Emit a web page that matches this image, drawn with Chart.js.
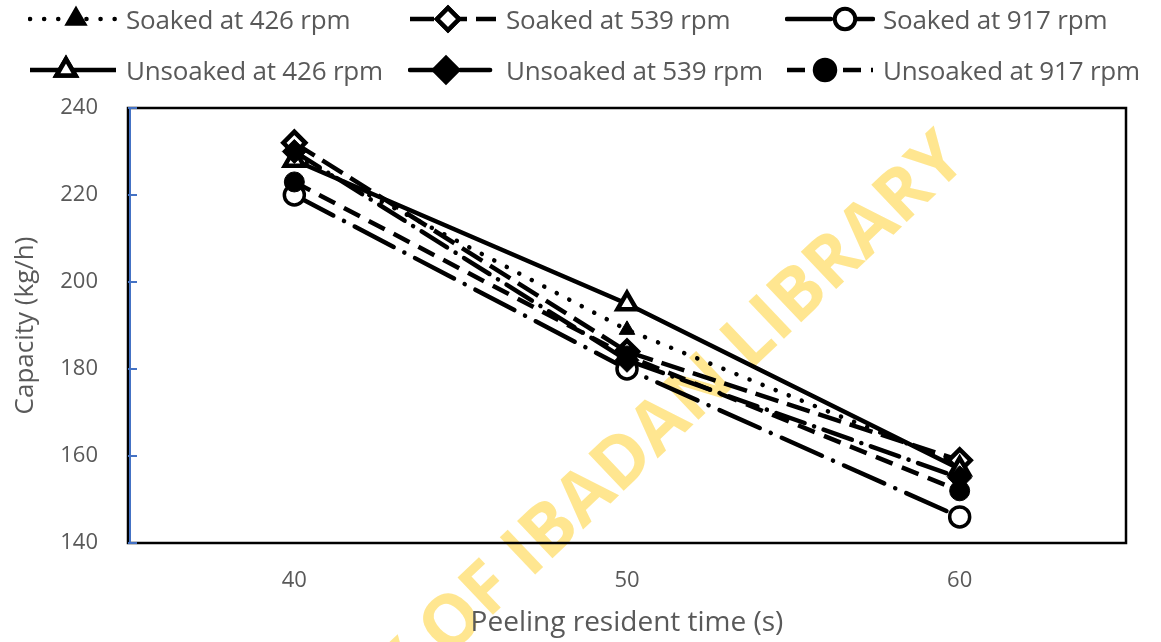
<!DOCTYPE html>
<html>
<head>
<meta charset="utf-8">
<script src="https://cdn.jsdelivr.net/npm/chart.js@4.4.1/dist/chart.umd.min.js"></script>
<style>
  html, body { margin: 0; padding: 0; background: #fff; }
  #wrap { position: relative; width: 1161px; height: 642px; overflow: hidden; }
  #chart { position: absolute; left: 0; top: 0; }
  #legend { position: absolute; left: 0; top: 0; width: 1161px; height: 100px;
    font-family: "Open Sans", sans-serif; font-size: 26px; color: #595959; letter-spacing: -0.2px; }
  .item { position: absolute; height: 34px; display: flex; align-items: center; white-space: nowrap; }
  .item canvas { margin-right: 8px; }
</style>
</head>
<body>
<div id="wrap">
  <canvas id="chart" width="1161" height="642"></canvas>
  <div id="legend"></div>
</div>
<script>
const times = ["40", "50", "60"];
const yTicks = [140, 160, 180, 200, 220, 240];

const soaked426 = [229, 189, 158];
const soaked539 = [232, 184, 159];
const soaked917 = [220, 180, 146];
const unsoaked426 = [228, 195, 157];
const unsoaked539 = [230, 182, 155];
const unsoaked917 = [223, 183, 152];

const seriesNames = [
  "Soaked at 426 rpm", "Soaked at 539 rpm", "Soaked at 917 rpm",
  "Unsoaked at 426 rpm", "Unsoaked at 539 rpm", "Unsoaked at 917 rpm"
];

const styles = [
  { data: soaked426, dash: [0.1, 14], cap: "round", point: "triangle", radius: 9, fill: "#000", bw: 1, mx: 48 },
  { data: soaked539, dash: [24, 9], cap: "butt", point: "rectRot", radius: 11, fill: "#fff", bw: 4.5, mx: 40 },
  { data: soaked917, dash: [44, 12, 0.1, 12], cap: "round", point: "circle", radius: 10, fill: "#fff", bw: 3.5, mx: 60 },
  { data: unsoaked426, dash: [], cap: "butt", point: "triangle", radius: 11, fill: "#fff", bw: 4.5, mx: 38 },
  { data: unsoaked539, dash: [30, 10, 0.1, 10], cap: "round", point: "rectRot", radius: 12, fill: "#000", bw: 1, mx: 38 },
  { data: unsoaked917, dash: [18, 10], cap: "butt", point: "circle", radius: 10, fill: "#000", bw: 1, mx: 40 }
];

const datasets = styles.map((s, i) => ({
  label: seriesNames[i],
  data: s.data,
  borderColor: "#000",
  borderWidth: 4.5,
  borderDash: s.dash,
  borderCapStyle: s.cap,
  pointStyle: s.point,
  pointRadius: s.radius,
  pointBackgroundColor: s.fill,
  pointBorderColor: "#000",
  pointBorderWidth: s.bw,
  tension: 0,
  order: 6 - i
}));

const gray = "#595959";

const framePlugin = {
  id: "frame",
  beforeDraw(chart) {
    const { ctx } = chart;
    ctx.save();
    ctx.fillStyle = "#fff";
    ctx.fillRect(0, 0, chart.width, chart.height);
    // watermark
    ctx.translate(955, 148);
    ctx.rotate(-43.5 * Math.PI / 180);
    ctx.font = "bold 72px 'Open Sans', sans-serif";
    ctx.fillStyle = "rgba(255, 214, 70, 0.6)";
    ctx.textAlign = "right";
    ctx.textBaseline = "middle";
    ctx.fillText("UNIVERSITY OF IBADAN LIBRARY", 0, 0);
    ctx.restore();
  },
  afterDraw(chart) {
    const { ctx, chartArea: a } = chart;
    const y = chart.scales.y;
    ctx.save();
    ctx.strokeStyle = "#000";
    ctx.lineWidth = 2.5;
    ctx.strokeRect(a.left, a.top, a.right - a.left, a.bottom - a.top);
    ctx.strokeStyle = "#4472C4";
    ctx.lineWidth = 2;
    ctx.beginPath();
    ctx.moveTo(a.left + 2, a.top);
    ctx.lineTo(a.left + 2, a.bottom);
    yTicks.forEach(v => {
      const py = y.getPixelForValue(v);
      ctx.moveTo(a.left, py);
      ctx.lineTo(a.left + 9, py);
    });
    ctx.stroke();
    ctx.restore();
  }
};

new Chart(document.getElementById("chart"), {
  type: "line",
  data: { labels: times, datasets: datasets },
  options: {
    responsive: false,
    animation: false,
    layout: { padding: { top: 108, right: 35, bottom: 0, left: 0 } },
    plugins: { legend: { display: false }, tooltip: { enabled: false } },
    scales: {
      x: {
        type: "category",
        offset: true,
        grid: { display: false, drawTicks: false },
        border: { display: false },
        ticks: { color: gray, font: { family: "Open Sans", size: 22 }, padding: 25 },
        title: { display: true, text: "Peeling resident time (s)", color: gray,
          font: { family: "Open Sans", size: 28 }, padding: { top: 4, bottom: 2 } },
        afterFit(scale) { scale.height = 99; }
      },
      y: {
        min: 140, max: 240,
        grid: { display: false, drawTicks: false },
        border: { display: false },
        ticks: { stepSize: 20, color: gray, font: { family: "Open Sans", size: 22 }, padding: 30 },
        title: { display: true, text: "Capacity (kg/h)", color: gray,
          font: { family: "Open Sans", size: 26 }, padding: { top: 10, bottom: 6 } },
        afterFit(scale) { scale.width = 128; }
      }
    }
  },
  plugins: [framePlugin]
});

// legend with line + marker samples
const legendPos = [[28, 2], [408, 2], [785, 2], [28, 53], [408, 53], [785, 53]];
const legend = document.getElementById("legend");
styles.forEach((s, i) => {
  const item = document.createElement("div");
  item.className = "item";
  item.style.left = legendPos[i][0] + "px";
  item.style.top = legendPos[i][1] + "px";
  const c = document.createElement("canvas");
  c.width = 90; c.height = 34;
  const g = c.getContext("2d");
  g.strokeStyle = "#000";
  g.lineWidth = 4.5;
  g.lineCap = s.cap;
  g.setLineDash(s.dash);
  g.beginPath();
  g.moveTo(2, 17);
  g.lineTo(88, 17);
  g.stroke();
  g.setLineDash([]);
  Chart.helpers.drawPoint(g, {
    pointStyle: s.point, radius: s.radius, borderWidth: s.bw, rotation: 0
  }, s.mx, 17);
  g.fillStyle = s.fill;
  g.lineWidth = s.bw;
  g.fill();
  g.stroke();
  const span = document.createElement("span");
  span.textContent = seriesNames[i];
  item.appendChild(c);
  item.appendChild(span);
  legend.appendChild(item);
});
</script>
</body>
</html>
